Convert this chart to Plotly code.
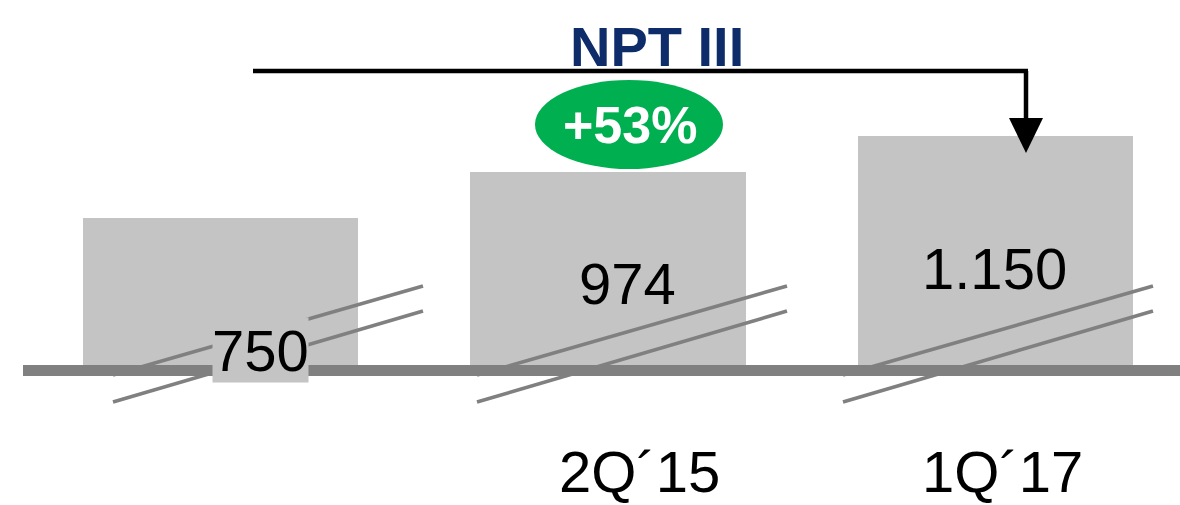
import plotly.graph_objects as go

# ---- data ----
categories = ["", "2Q\u00b415", "1Q\u00b417"]
values = [750, 974, 1150]
value_labels = ["750", "974", "1.150"]
title_text = "NPT III"
growth_text = "+53%"

# ---- layout constants (pixels) ----
W, H = 1180, 505
X0_PX, X_STEP = 220.5, 387.5       # bar-centre pixel / category spacing
BASE_PX, Y_SCALE = 370.5, 0.204    # baseline pixel / px per unit

def px2x(px):
    return (px - X0_PX) / X_STEP

def py2y(py):
    return (BASE_PX - py) / Y_SCALE

def px(p):
    return p / W

def py(p):
    return 1 - p / H

FONT = "Liberation Sans, Arial, sans-serif"
BAR_C = "#C4C4C4"
LINE_C = "#808080"

fig = go.Figure()
fig.add_trace(go.Bar(
    x=list(range(len(values))), y=values, width=0.712,
    marker=dict(color=BAR_C, line=dict(width=0)),
    hoverinfo="skip", showlegend=False,
))

shapes = []
# axis-break marks (pairs of diagonal lines)
break_starts_px = [113, 477, 843]
for s in break_starts_px:
    for (ya, yb) in [(375, 286), (402, 311)]:
        shapes.append(dict(type="line", xref="paper", yref="paper",
                           x0=px(s), y0=py(ya), x1=px(s + 310), y1=py(yb),
                           line=dict(color=LINE_C, width=3.6), layer="above"))
# baseline
shapes.append(dict(type="line", xref="paper", yref="y",
                   x0=px(23), x1=1, y0=0, y1=0,
                   line=dict(color=LINE_C, width=11), layer="above"))
# bracket
shapes.append(dict(type="line", xref="paper", yref="paper",
                   x0=px(253), x1=px(1028), y0=py(71), y1=py(71),
                   line=dict(color="black", width=4.5), layer="above"))
shapes.append(dict(type="line", xref="paper", yref="paper",
                   x0=px(1026), x1=px(1026), y0=py(71), y1=py(122),
                   line=dict(color="black", width=4.5), layer="above"))
shapes.append(dict(type="path", xref="paper", yref="paper",
                   path=f"M {px(1009)},{py(118)} L {px(1043)},{py(118)} L {px(1026)},{py(153)} Z",
                   fillcolor="black", line=dict(width=0), layer="above"))
# green ellipse
shapes.append(dict(type="circle", xref="paper", yref="paper",
                   x0=px(535), x1=px(723), y0=py(169), y1=py(80),
                   fillcolor="#00B050", line=dict(width=0), layer="above"))

annotations = []
# value labels
label_pos = [(260, 350), (627, 283), (994, 268)]
for i, (lab, (lx, ly)) in enumerate(zip(value_labels, label_pos)):
    a = dict(x=i, y=py2y(ly), xref="x", yref="y", text=lab, showarrow=False,
             xanchor="center", yanchor="middle",
             xshift=lx - (X0_PX + i * X_STEP),
             font=dict(family=FONT, size=58, color="#000000"))
    if i == 0:
        a.update(bgcolor=BAR_C, width=95, height=64, borderpad=0)
    annotations.append(a)

# category labels
cat_pos = [None, 639, 1002]
for i, (c, cx) in enumerate(zip(categories, cat_pos)):
    if not c:
        continue
    annotations.append(dict(x=i, y=py2y(471), xref="x", yref="y", text=c,
                            showarrow=False, xanchor="center", yanchor="middle",
                            xshift=cx - (X0_PX + i * X_STEP),
                            font=dict(family=FONT, size=58, color="#000000")))

annotations.append(dict(x=px(657), y=py(47), xref="paper", yref="paper",
                        text=f"<b>{title_text}</b>", showarrow=False,
                        xanchor="center", yanchor="middle",
                        font=dict(family=FONT, size=56, color="#0E2C6A")))
annotations.append(dict(x=px(630), y=py(125), xref="paper", yref="paper",
                        text=f"<b>{growth_text}</b>", showarrow=False,
                        xanchor="center", yanchor="middle",
                        font=dict(family=FONT, size=52, color="white")))

fig.update_layout(
    width=W, height=H,
    margin=dict(l=0, r=0, t=0, b=0),
    paper_bgcolor="white", plot_bgcolor="white",
    xaxis=dict(range=[px2x(0), px2x(W)], visible=False, fixedrange=True),
    yaxis=dict(range=[py2y(H), py2y(0)], visible=False, fixedrange=True),
    shapes=shapes, annotations=annotations,
    showlegend=False, bargap=0,
)

fig.write_html("out.html", config={"displayModeBar": False},
               post_script="document.body.style.margin='0';document.body.style.overflow='hidden';")
